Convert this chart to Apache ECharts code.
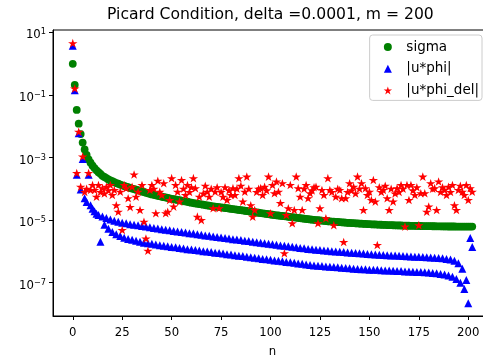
<!DOCTYPE html>
<html>
<head>
<meta charset="utf-8">
<script src="https://cdn.jsdelivr.net/npm/echarts@6/dist/echarts.min.js"></script>
<style>html,body{margin:0;padding:0;background:#fff;}#c{width:483px;height:355px;}</style>
</head>
<body>
<div id="c"></div>
<script>
// n = 0 .. 202 (index of each value)
const sigma = [
9.8e-1,2.1e-1,3.3e-2,1.2e-2,5.6e-3,3.0e-3,1.8e-3,1.2e-3,8.7e-4,6.8e-4,
5.5e-4,4.6e-4,3.9e-4,3.4e-4,3.0e-4,2.6e-4,2.4e-4,2.2e-4,2.0e-4,1.85e-4,
1.75e-4,1.62e-4,1.52e-4,1.45e-4,1.36e-4,1.29e-4,1.23e-4,1.18e-4,1.12e-4,1.07e-4,
1.02e-4,
9.8e-5,9.4e-5,9.0e-5,8.6e-5,8.2e-5,7.9e-5,7.5e-5,7.2e-5,6.9e-5,6.6e-5,
6.4e-5,6.2e-5,6.0e-5,5.8e-5,5.6e-5,5.4e-5,5.3e-5,5.1e-5,4.95e-5,4.8e-5,
4.7e-5,4.55e-5,4.4e-5,4.3e-5,4.2e-5,4.05e-5,3.95e-5,3.85e-5,3.7e-5,3.6e-5,
3.5e-5,3.42e-5,3.34e-5,3.26e-5,3.18e-5,3.1e-5,3.02e-5,2.95e-5,2.88e-5,2.8e-5,
2.75e-5,2.7e-5,2.65e-5,2.6e-5,2.55e-5,2.5e-5,2.45e-5,2.4e-5,2.35e-5,2.3e-5,
2.25e-5,2.21e-5,2.17e-5,2.12e-5,2.08e-5,2.03e-5,1.99e-5,1.95e-5,1.9e-5,1.86e-5,
1.82e-5,1.79e-5,1.75e-5,1.72e-5,1.68e-5,1.65e-5,1.62e-5,1.58e-5,1.55e-5,1.51e-5,
1.48e-5,1.45e-5,1.42e-5,1.4e-5,1.37e-5,1.35e-5,1.33e-5,1.31e-5,1.28e-5,1.26e-5,
1.24e-5,1.22e-5,1.2e-5,1.17e-5,1.15e-5,1.13e-5,1.11e-5,1.09e-5,1.07e-5,1.05e-5,
1.035e-5,1.02e-5,1.005e-5,9.9e-6,9.75e-6,9.6e-6,9.5e-6,9.35e-6,9.2e-6,9.1e-6,
9.0e-6,8.9e-6,8.8e-6,8.7e-6,8.6e-6,8.5e-6,8.4e-6,8.3e-6,8.2e-6,8.1e-6,
8.03e-6,7.96e-6,7.89e-6,7.82e-6,7.75e-6,7.68e-6,7.61e-6,7.54e-6,7.47e-6,7.4e-6,
7.35e-6,7.3e-6,7.25e-6,7.2e-6,7.15e-6,7.1e-6,7.05e-6,7.0e-6,6.95e-6,6.9e-6,
6.87e-6,6.84e-6,6.81e-6,6.78e-6,6.75e-6,6.72e-6,6.69e-6,6.66e-6,6.63e-6,6.6e-6,
6.58e-6,6.56e-6,6.54e-6,6.52e-6,6.5e-6,6.48e-6,6.46e-6,6.44e-6,6.42e-6,6.4e-6,
6.39e-6,6.37e-6,6.36e-6,6.34e-6,6.33e-6,6.31e-6,6.3e-6,6.28e-6,6.27e-6,6.25e-6,
6.25e-6,6.24e-6,6.24e-6,6.23e-6,6.23e-6,6.22e-6,6.22e-6,6.21e-6,6.21e-6,6.2e-6,6.2e-6,6.2e-6
];
const uphi = [
3.7,1.4e-1,2.8e-4,6.0e-3,9.5e-5,9.0e-4,5.0e-5,3.8e-5,2.8e-4,3.0e-5,
2.3e-5,1.9e-5,1.6e-5,1.45e-5,2.05e-6,1.3e-5,7.1e-6,1.17e-5,5.25e-6,1.05e-5,
4.2e-6,9.55e-6,3.55e-6,8.9e-6,3.1e-6,8.3e-6,2.75e-6,7.9e-6,2.5e-6,7.4e-6,
2.35e-6,7.1e-6,2.2e-6,6.8e-6,2.05e-6,6.5e-6,1.9e-6,6.2e-6,1.82e-6,5.9e-6,
1.74e-6,5.6e-6,1.66e-6,5.4e-6,1.58e-6,5.1e-6,1.51e-6,4.9e-6,1.45e-6,4.7e-6,
1.38e-6,4.5e-6,1.35e-6,4.3e-6,1.29e-6,4.2e-6,1.23e-6,4.0e-6,1.17e-6,3.8e-6,
1.15e-6,3.7e-6,1.1e-6,3.55e-6,1.07e-6,3.4e-6,1.02e-6,3.25e-6,1.0e-6,3.16e-6,
9.5e-7,3.0e-6,9.1e-7,2.9e-6,8.9e-7,2.8e-6,8.5e-7,2.7e-6,8.1e-7,2.57e-6,
7.9e-7,2.45e-6,7.6e-7,2.4e-6,7.2e-7,2.3e-6,7.1e-7,2.2e-6,6.8e-7,2.14e-6,
6.5e-7,2.05e-6,6.3e-7,1.95e-6,6.0e-7,1.9e-6,5.75e-7,1.82e-6,5.6e-7,1.74e-6,
5.4e-7,1.7e-6,5.1e-7,1.62e-6,5.0e-7,1.55e-6,4.8e-7,1.51e-6,4.6e-7,1.45e-6,
4.5e-7,1.41e-6,4.3e-7,1.35e-6,4.1e-7,1.29e-6,4.0e-7,1.26e-6,3.8e-7,1.2e-6,
3.7e-7,1.17e-6,3.55e-7,1.12e-6,3.5e-7,1.1e-6,3.4e-7,1.07e-6,3.3e-7,1.05e-6,
3.25e-7,1.02e-6,3.16e-7,1.0e-6,3.1e-7,9.8e-7,3.0e-7,9.55e-7,2.95e-7,9.3e-7,
2.9e-7,9.1e-7,2.8e-7,8.9e-7,2.75e-7,8.7e-7,2.7e-7,8.5e-7,2.7e-7,8.3e-7,
2.6e-7,8.1e-7,2.57e-7,7.9e-7,2.57e-7,7.8e-7,2.5e-7,7.7e-7,2.45e-7,7.6e-7,
2.45e-7,7.4e-7,2.4e-7,7.4e-7,2.35e-7,7.2e-7,2.35e-7,7.1e-7,2.3e-7,7.0e-7,
2.3e-7,6.9e-7,2.24e-7,6.8e-7,2.2e-7,6.7e-7,2.2e-7,6.6e-7,2.14e-7,6.5e-7,
2.1e-7,6.4e-7,2.05e-7,6.3e-7,2.0e-7,6.2e-7,1.9e-7,6.0e-7,1.82e-7,5.75e-7,
1.7e-7,5.5e-7,1.55e-7,5.0e-7,1.32e-7,4.2e-7,1.0e-7,2.8e-7,6.3e-8,1.23e-7,
2.2e-8,2.7e-6,1.38e-6
];
const uphiDel = [
4.5,1.6e-1,3.2e-4,6.6e-3,1.17e-4,1.07e-3,7.9e-5,1.0e-4,3.2e-4,9.1e-5,
1.32e-4,9.1e-5,5.6e-5,1.32e-4,7.9e-5,1.05e-4,7.1e-5,1.17e-4,8.9e-5,1.32e-4,
6.3e-5,9.1e-5,3.0e-5,1.86e-5,8.1e-5,4.8e-6,1.32e-4,1.05e-4,5.0e-5,2.6e-5,
1.17e-4,2.88e-4,5.6e-5,8.1e-5,2.1e-5,1.32e-4,8.9e-6,2.6e-6,1.05e-6,9.1e-5,
1.32e-4,1.0e-4,1.66e-5,1.82e-4,8.1e-5,6.3e-5,1.51e-4,1.66e-5,1.86e-5,4.4e-5,
2.19e-4,2.7e-5,1.32e-4,8.1e-5,3.9e-5,1.91e-4,1.0e-4,6.3e-5,1.32e-4,7.9e-5,
1.12e-4,2.19e-4,1.05e-4,1.29e-5,5.6e-5,1.0e-5,7.1e-5,1.26e-4,8.1e-5,5.6e-5,
1.0e-4,2.4e-5,8.1e-5,1.12e-4,2.4e-5,7.9e-5,5.6e-5,1.12e-4,4.4e-5,8.9e-5,
6.3e-5,1.05e-4,6.3e-5,1.0e-4,2.19e-4,1.26e-4,3.9e-5,8.1e-5,2.45e-4,1.0e-4,
3.0e-5,1.29e-5,2.1e-5,7.9e-5,1.0e-4,1.05e-4,6.3e-5,1.17e-4,8.9e-5,2.45e-4,
1.66e-5,1.32e-4,7.2e-5,1.7e-4,8.1e-5,3.5e-5,1.51e-4,8.7e-7,1.45e-5,2.4e-5,
1.32e-4,7.9e-6,2.1e-5,2.45e-4,1.05e-4,5.6e-5,2.1e-5,1.0e-4,1.32e-4,5.0e-5,
7.2e-5,8.9e-5,1.12e-4,1.17e-4,7.9e-6,2.4e-5,9.1e-5,6.3e-5,1.15e-5,2.19e-4,
9.1e-5,7.9e-5,6.9e-6,5.6e-5,1.0e-4,9.1e-5,5.0e-5,2.0e-6,5.0e-5,7.9e-5,
1.51e-4,8.9e-5,1.17e-4,7.1e-5,2.45e-4,1.0e-4,1.51e-4,2.1e-5,1.05e-4,6.3e-5,
8.1e-5,4.4e-5,1.91e-4,3.9e-5,1.6e-6,1.12e-4,7.9e-5,9.1e-5,1.26e-4,5.0e-5,
2.1e-5,1.0e-4,3.9e-5,7.1e-5,1.05e-4,7.9e-5,1.32e-4,1.0e-4,6.2e-6,1.32e-4,
4.4e-5,1.32e-4,8.9e-5,6.3e-5,1.12e-4,6.9e-6,7.2e-5,2.45e-4,7.2e-5,1.86e-5,
2.7e-5,1.51e-4,1.0e-4,1.05e-4,2.1e-5,1.7e-4,7.9e-5,1.12e-4,9.1e-5,6.3e-5,
1.17e-4,7.9e-5,1.32e-4,3.0e-5,2.1e-5,9.1e-5,1.26e-4,8.1e-5,6.3e-5,1.32e-4,
4.4e-5,1.05e-4,8.1e-5
];
const seriesNames = ['sigma', '|u*phi|', '|u*phi_del|'];
const xTicks = [0, 25, 50, 75, 100, 125, 150, 175, 200];
const yTickExponents = [-7, -5, -3, -1, 1];

const FONT = 'DejaVu Sans';
const STAR = 'path://M0,-1L0.2245,-0.309L0.951,-0.309L0.3633,0.118L0.5878,0.809L0,0.382L-0.5878,0.809L-0.3633,0.118L-0.951,-0.309L-0.2245,-0.309Z';
const TRI = 'path://M0,-1L1,1L-1,1Z';
const toPts = arr => arr.map((v, i) => [i, Math.log10(v)]);

const chart = echarts.init(document.getElementById('c'), null, {renderer: 'canvas'});
chart.setOption({
  animation: false,
  backgroundColor: '#fff',
  textStyle: {fontFamily: FONT},
  title: {
    text: 'Picard Condition, delta =0.0001, m = 200',
    left: 107, top: 7, padding: 0,
    textStyle: {fontFamily: FONT, fontSize: 15.6, fontWeight: 'normal', color: '#000'}
  },
  grid: {left: 53, top: 30, width: 439, height: 286, show: true, borderColor: '#000', borderWidth: 1,
         containLabel: false, outerBoundsMode: 'none'},
  legend: {
    orient: 'vertical', right: 1, top: 35,
    padding: [4, 3, 2, 14], itemGap: 5.7, itemWidth: 27, itemHeight: 8,
    symbolKeepAspect: true,
    backgroundColor: 'rgba(255,255,255,0.8)', borderColor: '#cccccc', borderWidth: 1, borderRadius: 3,
    textStyle: {fontFamily: FONT, fontSize: 13.5, color: '#000', lineHeight: 16},
    data: seriesNames
  },
  xAxis: {
    type: 'value', min: -10, max: 212,
    name: 'n', nameLocation: 'middle', nameGap: 30,
    nameTextStyle: {fontFamily: FONT, fontSize: 11.7, color: '#000'},
    axisLine: {show: true, onZero: false, lineStyle: {color: '#000', width: 1}},
    axisTick: {show: true, length: 4, lineStyle: {color: '#000', width: 1}, customValues: xTicks},
    axisLabel: {show: true, customValues: xTicks, fontFamily: FONT, fontSize: 11.7, color: '#000', margin: 11},
    splitLine: {show: false}
  },
  yAxis: {
    type: 'value', min: -8.064, max: 1.0735,
    axisLine: {show: true, onZero: false, lineStyle: {color: '#000', width: 1}},
    axisTick: {show: true, length: 4, lineStyle: {color: '#000', width: 1}, customValues: yTickExponents},
    axisLabel: {
      show: true, customValues: yTickExponents, margin: 7,
      formatter: v => '{b|10}{s|' + (v < 0 ? '\u2212' : '') + Math.abs(Math.round(v)) + '}',
      rich: {
        b: {fontFamily: FONT, fontSize: 11.7, color: '#000', padding: [6, 0, 0, 0]},
        s: {fontFamily: FONT, fontSize: 8.2, color: '#000'}
      }
    },
    splitLine: {show: false}
  },
  series: [
    {name: seriesNames[0], type: 'scatter', symbol: 'circle', symbolSize: 7.8,
     itemStyle: {color: '#008000', opacity: 1}, data: toPts(sigma), z: 2},
    {name: seriesNames[1], type: 'scatter', symbol: TRI, symbolSize: 8, symbolKeepAspect: true,
     itemStyle: {color: '#0000ff', opacity: 1}, data: toPts(uphi), z: 3},
    {name: seriesNames[2], type: 'scatter', symbol: STAR, symbolSize: [9.4, 9], symbolKeepAspect: true,
     itemStyle: {color: '#ff0000', opacity: 1}, data: toPts(uphiDel), z: 4}
  ]
});
</script>
</body>
</html>
